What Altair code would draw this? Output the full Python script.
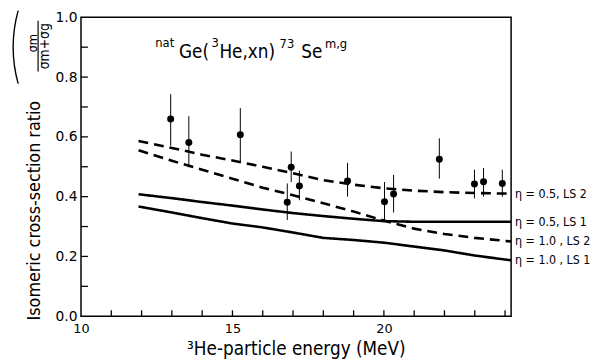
import altair as alt
import pandas as pd
import math

energy = [12.96, 13.56, 15.26, 16.81, 16.94, 17.21, 18.80, 20.02, 20.32, 21.83, 22.99, 23.29, 23.91]
ratio = [0.660, 0.581, 0.607, 0.381, 0.498, 0.436, 0.452, 0.383, 0.409, 0.525, 0.442, 0.450, 0.444]
ratio_lo = [0.570, 0.498, 0.517, 0.322, 0.449, 0.388, 0.400, 0.322, 0.347, 0.460, 0.394, 0.400, 0.400]
ratio_hi = [0.743, 0.669, 0.696, 0.444, 0.551, 0.487, 0.513, 0.449, 0.473, 0.595, 0.490, 0.496, 0.490]

curve_e = [11.9, 13, 14, 15, 16, 17, 18, 19, 20, 21, 22, 23, 24.2]
eta05_ls2 = [0.586, 0.563, 0.540, 0.521, 0.500, 0.478, 0.455, 0.440, 0.428, 0.420, 0.415, 0.412, 0.410]
eta10_ls2 = [0.555, 0.520, 0.490, 0.460, 0.430, 0.405, 0.378, 0.350, 0.320, 0.293, 0.275, 0.262, 0.250]
eta05_ls1 = [0.408, 0.395, 0.382, 0.370, 0.357, 0.345, 0.335, 0.326, 0.318, 0.316, 0.316, 0.316, 0.316]
eta10_ls1 = [0.367, 0.347, 0.328, 0.310, 0.297, 0.280, 0.262, 0.255, 0.246, 0.233, 0.220, 0.203, 0.187]

series_names = ["η = 0.5, LS 2", "η = 0.5, LS 1", "η = 1.0 , LS 2", "η = 1.0 , LS 1"]
series_vals = [eta05_ls2, eta05_ls1, eta10_ls2, eta10_ls1]
series_kind = ["LS2", "LS1", "LS2", "LS1"]

x_ticks_minor = list(range(11, 25))
x_labels = [10, 15, 20]
y_ticks_minor = [0.1, 0.2, 0.3, 0.4, 0.5, 0.6, 0.7, 0.8, 0.9]
y_labels = [0.0, 0.2, 0.4, 0.6, 0.8, 1.0]

# ---- tables ----
pts = pd.DataFrame({"E": energy, "R": ratio, "lo": ratio_lo, "hi": ratio_hi})
rows = []
for name, vals, kind in zip(series_names, series_vals, series_kind):
    for e, v in zip(curve_e, vals):
        rows.append({"series": name, "kind": kind, "E": e, "R": v})
curves = pd.DataFrame(rows)
ends = curves[curves["E"] == curve_e[-1]].copy()

W, H = 436, 303
FONT = "DejaVu Sans Condensed, Liberation Sans Narrow, DejaVu Sans"
TFONT = "DejaVu Sans"

xs = alt.Scale(domain=[10, 24.2], nice=False, zero=False)
ys = alt.Scale(domain=[0, 1], nice=False)

xaxis = alt.Axis(values=x_labels, ticks=False, domain=False, grid=False, title=None,
                 labelFont=TFONT, labelFontSize=13, labelPadding=7, labelColor="black",
                 labelFlush=False)
yaxis = alt.Axis(values=y_labels, ticks=False, domain=False, grid=False, title=None,
                 format=".1f", labelFont=TFONT, labelFontSize=14, labelPadding=4,
                 labelColor="black")

base = alt.Chart(pts)

errs = base.mark_rule(color="black", strokeWidth=1).encode(
    x=alt.X("E:Q", scale=xs, axis=xaxis),
    y=alt.Y("lo:Q", scale=ys, axis=yaxis),
    y2="hi:Q",
)
dots = base.mark_point(filled=True, color="black", size=50, opacity=1, shape="circle").encode(
    x=alt.X("E:Q", scale=xs), y=alt.Y("R:Q", scale=ys)
)

lines = alt.Chart(curves).mark_line(color="black", strokeWidth=2.6).encode(
    x=alt.X("E:Q", scale=xs),
    y=alt.Y("R:Q", scale=ys),
    detail="series:N",
    strokeDash=alt.StrokeDash("kind:N", scale=alt.Scale(domain=["LS1", "LS2"], range=[[1, 0], [10, 6]]), legend=None),
)

labels = alt.Chart(ends).mark_text(align="left", baseline="middle", font=FONT, fontSize=12.5,
                                   color="black").encode(
    x=alt.value(W + 4),
    y=alt.Y("R:Q", scale=ys),
    text="series:N",
)

xt = alt.Chart(pd.DataFrame({"v": x_ticks_minor})).mark_rule(color="black", strokeWidth=1.3).encode(
    x=alt.X("v:Q", scale=xs), y=alt.value(H), y2=alt.value(H - 6)
)
yt = alt.Chart(pd.DataFrame({"v": y_ticks_minor})).mark_rule(color="black", strokeWidth=1.3).encode(
    y=alt.Y("v:Q", scale=ys), x=alt.value(0), x2=alt.value(7)
)

def txt(s, x, y, size, angle=0, align="left", baseline="alphabetic", font=FONT):
    return alt.Chart(pd.DataFrame({"t": [s]})).mark_text(
        align=align, baseline=baseline, fontSize=size, font=font, angle=angle, color="black"
    ).encode(x=alt.value(x), y=alt.value(y), text="t:N")

annot = [
    txt("nat", 75.3, 30.3, 13),
    txt("Ge(", 99.3, 41.3, 19),
    txt("3", 132.3, 30.3, 13),
    txt("He,xn)", 140.3, 41.3, 19),
    txt("73", 201.3, 31.3, 13),
    txt("Se", 223.3, 41.3, 19),
    txt("m,g", 247.3, 31.3, 13),
    # x title
    txt("³He-particle energy (MeV)", 218.3, 342.3, 19, align="center"),
    # y title
    txt("Isomeric cross-section ratio", -46.7, 196.0, 18, angle=270, align="center", baseline="middle"),
    txt("σm", -49.0, 26.3, 13, angle=270, align="center", baseline="middle"),
    txt("σm+σg", -36.5, 29.3, 14, angle=270, align="center", baseline="middle"),
]
bar = alt.Chart(pd.DataFrame({"a": [0]})).mark_rule(color="black", strokeWidth=1.2).encode(
    x=alt.value(-43.5), y=alt.value(3.5), y2=alt.value(55.0)
)

# tall bracket enclosing the fraction (drawn as a thin circular arc)
R_ARC = 139.4
half = math.asin(37.0 / R_ARC)
bracket = alt.Chart(pd.DataFrame({"a": [0]})).mark_arc(
    theta=1.5 * math.pi - half, theta2=1.5 * math.pi + half,
    radius=R_ARC, radius2=R_ARC, fill="transparent", stroke="black", strokeWidth=1.4
).encode(x=alt.value(-68.7 + R_ARC), y=alt.value(30.3))

chart = alt.layer(errs, lines, dots, labels, xt, yt, bar, bracket, *annot).properties(
    width=W, height=H,
    padding={"left": 74, "top": 7, "right": 82, "bottom": 44},
    autosize=alt.AutoSizeParams(type="none"),
).configure_view(stroke="black", strokeWidth=1.5).configure_text(limit=0)

chart.save("out.html", embed_options={"renderer": "svg", "actions": False})
